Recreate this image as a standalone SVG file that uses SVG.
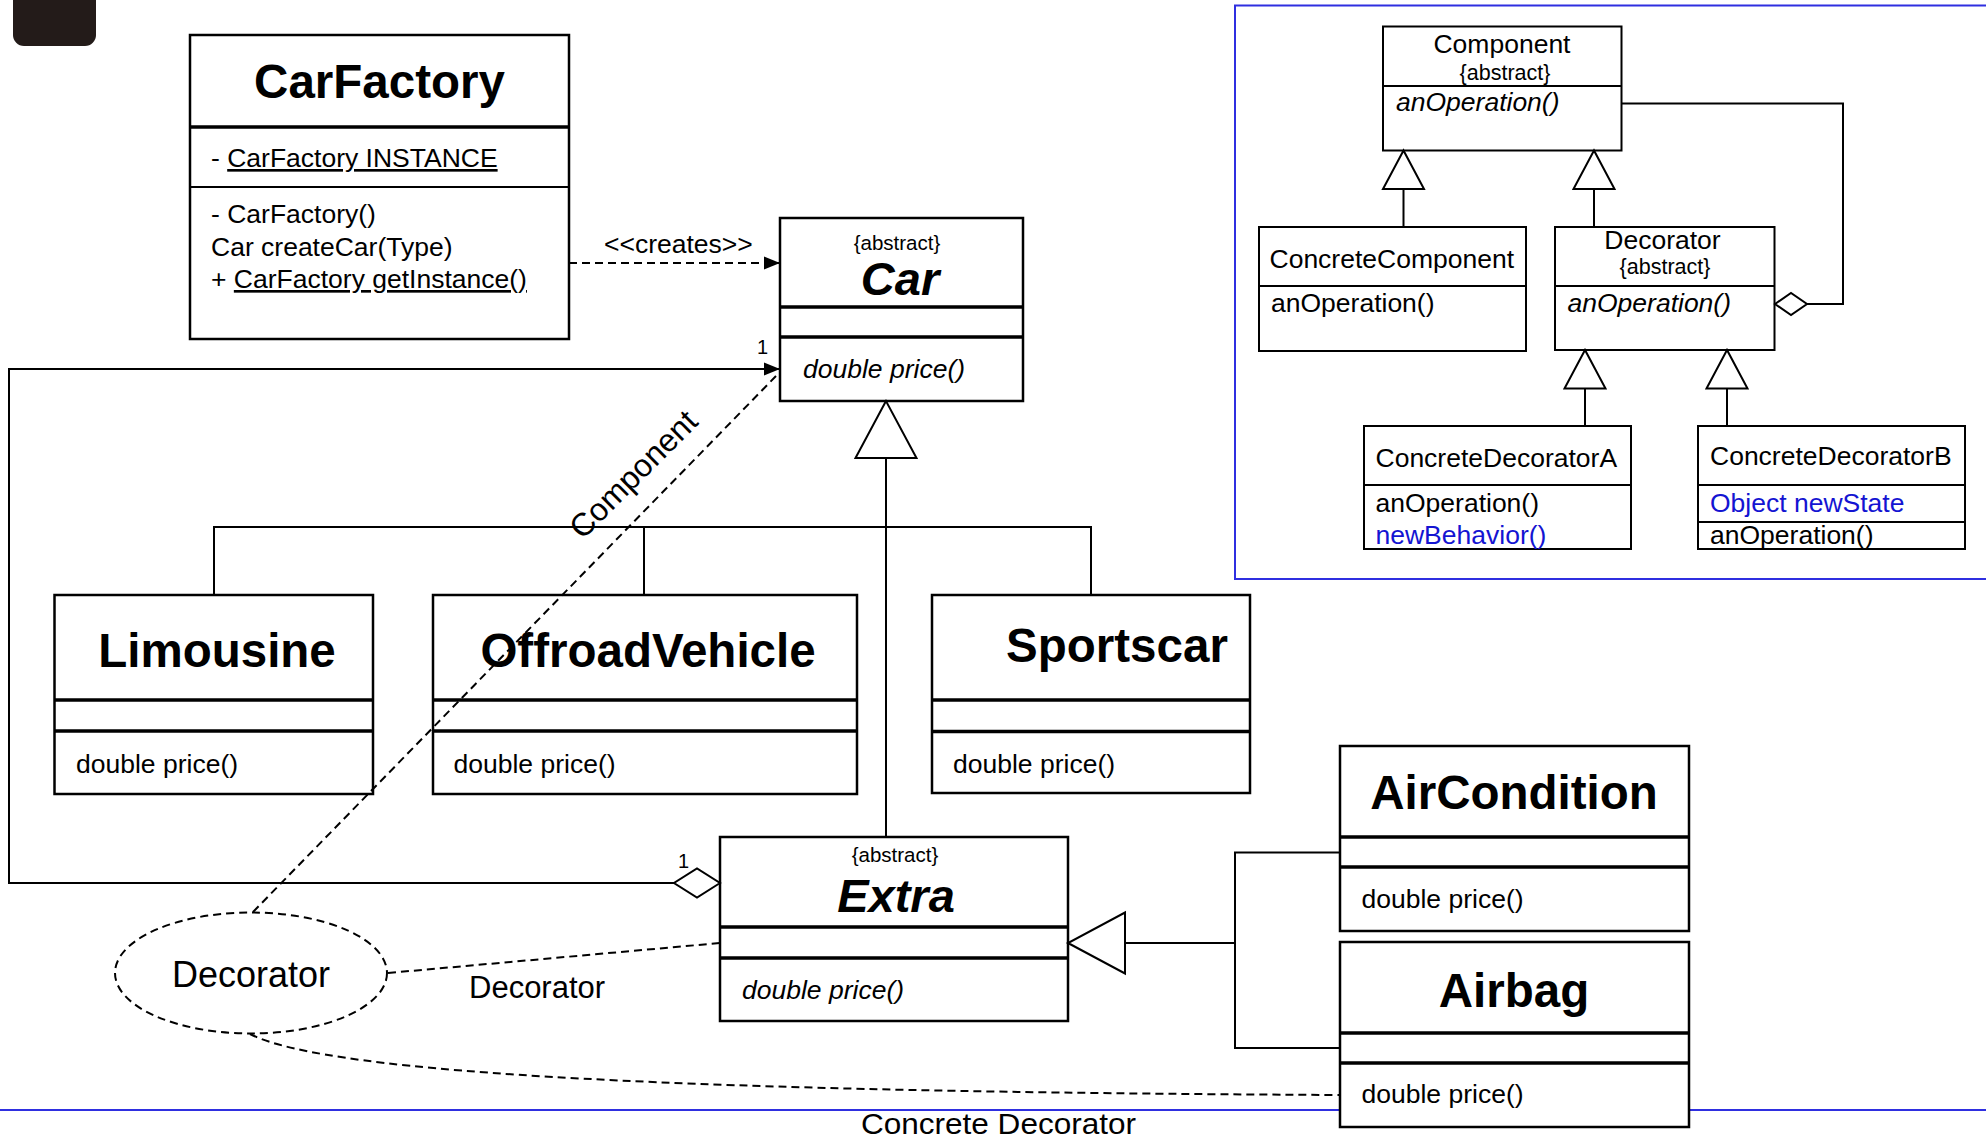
<svg xmlns="http://www.w3.org/2000/svg" width="1986" height="1137" viewBox="0 0 1986 1137">
  <style>
    text { font-family: "Liberation Sans", Arial, Helvetica, sans-serif; fill: #000; }
    .box { fill: #fff; stroke: #000; stroke-width: 2.5; }
    .div { stroke: #000; stroke-width: 3.5; }
    .pbox { fill: #fff; stroke: #000; stroke-width: 2; }
    .pdiv { stroke: #000; stroke-width: 2; }
    .title { font-weight: bold; font-size: 47.5px; text-anchor: middle; }
    .abstitle { font-weight: bold; font-style: italic; font-size: 47px; text-anchor: middle; }
    .mem { font-size: 26.5px; }
    .abs { font-size: 20.5px; text-anchor: middle; }
    .it { font-style: italic; }
    .ptxt { font-size: 26.5px; }
    .pabs { font-size: 21.5px; text-anchor: middle; }
    .blue { fill: #1414d2; }
    .line { fill: none; stroke: #000; stroke-width: 2; }
    .dash { stroke-dasharray: 8 5; }
    .frame { fill: none; stroke: #2f2fe0; stroke-width: 2; }
    .ul { text-decoration: underline; }
  </style>
  <defs>
    <marker id="arrow" markerUnits="userSpaceOnUse" viewBox="0 0 16 13" refX="16" refY="6.5" markerWidth="16" markerHeight="13" orient="auto" overflow="visible">
      <path d="M0,0 L16,6.5 L0,13 z" fill="#000"/>
    </marker>
    <marker id="gen" markerUnits="userSpaceOnUse" refX="0" refY="0" markerWidth="1" markerHeight="1" orient="auto" overflow="visible">
      <path d="M0,0 L-57,-30.5 L-57,30.5 z" fill="#fff" stroke="#000" stroke-width="2"/>
    </marker>
    <marker id="genS" markerUnits="userSpaceOnUse" refX="0" refY="0" markerWidth="1" markerHeight="1" orient="auto" overflow="visible">
      <path d="M0,0 L-38.5,-20.5 L-38.5,20.5 z" fill="#fff" stroke="#000" stroke-width="2"/>
    </marker>
    <marker id="diamond" markerUnits="userSpaceOnUse" refX="0" refY="0" markerWidth="1" markerHeight="1" orient="auto" overflow="visible">
      <path d="M0,0 L23,-14.5 L46,0 L23,14.5 z" fill="#fff" stroke="#000" stroke-width="2"/>
    </marker>
    <marker id="diamondS" markerUnits="userSpaceOnUse" refX="0" refY="0" markerWidth="1" markerHeight="1" orient="auto" overflow="visible">
      <path d="M0,0 L16,-11 L32,0 L16,11 z" fill="#fff" stroke="#000" stroke-width="2"/>
    </marker>
  </defs>

  <rect width="1986" height="1137" fill="#fff"/>

  <!-- corner tab -->
  <rect x="13" y="-12" width="83" height="58" rx="11" fill="#231b19"/>

  <!-- pattern frame and bottom rule -->
  <rect class="frame" x="1235" y="5.5" width="770" height="573.5"/>
  <line class="frame" x1="0" y1="1110" x2="1986" y2="1110"/>

  <g id="CarFactory">
    <rect class="box" x="190" y="35" width="379" height="304"/>
    <line class="div" x1="190" y1="127" x2="569" y2="127"/>
    <line class="pdiv" stroke-width="2.5" x1="190" y1="187" x2="569" y2="187"/>
    <text class="title" x="379.5" y="98">CarFactory</text>
    <text class="mem" x="211" y="167">- <tspan class="ul">CarFactory INSTANCE</tspan></text>
    <text class="mem" x="211" y="223">- CarFactory()</text>
    <text class="mem" x="211" y="256">Car createCar(Type)</text>
    <text class="mem" x="211" y="288">+ <tspan class="ul">CarFactory getInstance()</tspan></text>
  </g>

  <g id="Car">
    <rect class="box" x="780" y="218" width="243" height="183"/>
    <line class="div" x1="780" y1="307" x2="1023" y2="307"/>
    <line class="div" x1="780" y1="337" x2="1023" y2="337"/>
    <text class="abs" x="897" y="250">{abstract}</text>
    <text class="abstitle" x="900" y="295">Car</text>
    <text class="mem it" x="803" y="378">double price()</text>
  </g>

  <g id="Limousine">
    <rect class="box" x="54.5" y="595" width="318.5" height="199"/>
    <line class="div" x1="54.5" y1="700" x2="373" y2="700"/>
    <line class="div" x1="54.5" y1="731" x2="373" y2="731"/>
    <text class="title" x="217" y="666.5">Limousine</text>
    <text class="mem" x="76" y="772.5">double price()</text>
  </g>

  <g id="OffroadVehicle">
    <rect class="box" x="433" y="595" width="424" height="199"/>
    <line class="div" x1="433" y1="700" x2="857" y2="700"/>
    <line class="div" x1="433" y1="731" x2="857" y2="731"/>
    <text class="title" x="648" y="666.5">OffroadVehicle</text>
    <text class="mem" x="453.5" y="772.5">double price()</text>
  </g>

  <g id="Sportscar">
    <rect class="box" x="932" y="595" width="318" height="198"/>
    <line class="div" x1="932" y1="700" x2="1250" y2="700"/>
    <line class="div" x1="932" y1="731.5" x2="1250" y2="731.5"/>
    <text class="title" x="1117" y="662">Sportscar</text>
    <text class="mem" x="953" y="772.5">double price()</text>
  </g>

  <g id="Extra">
    <rect class="box" x="720" y="837" width="348" height="184"/>
    <line class="div" x1="720" y1="927" x2="1068" y2="927"/>
    <line class="div" x1="720" y1="958" x2="1068" y2="958"/>
    <text class="abs" x="895" y="862">{abstract}</text>
    <text class="abstitle" x="896" y="912">Extra</text>
    <text class="mem it" x="742" y="999">double price()</text>
  </g>

  <g id="AirCondition">
    <rect class="box" x="1340" y="746" width="349" height="185"/>
    <line class="div" x1="1340" y1="837" x2="1689" y2="837"/>
    <line class="div" x1="1340" y1="867" x2="1689" y2="867"/>
    <text class="title" x="1514" y="809">AirCondition</text>
    <text class="mem" x="1361.5" y="908">double price()</text>
  </g>

  <g id="Airbag">
    <rect class="box" x="1340" y="942" width="349" height="185"/>
    <line class="div" x1="1340" y1="1033" x2="1689" y2="1033"/>
    <line class="div" x1="1340" y1="1063" x2="1689" y2="1063"/>
    <text class="title" x="1514" y="1006.5">Airbag</text>
    <text class="mem" x="1361.5" y="1103">double price()</text>
  </g>

  <g id="Component">
    <rect class="pbox" x="1383" y="26.5" width="238.5" height="124"/>
    <line class="pdiv" x1="1383" y1="86" x2="1621.5" y2="86"/>
    <text class="ptxt" x="1502" y="53" text-anchor="middle">Component</text>
    <text class="pabs" x="1505" y="80">{abstract}</text>
    <text class="ptxt it" x="1396" y="111">anOperation()</text>
  </g>

  <g id="ConcreteComponent">
    <rect class="pbox" x="1259" y="227" width="267" height="124"/>
    <line class="pdiv" x1="1259" y1="286" x2="1526" y2="286"/>
    <text class="ptxt" x="1269.5" y="268">ConcreteComponent</text>
    <text class="ptxt" x="1271" y="312">anOperation()</text>
  </g>

  <g id="Decorator">
    <rect class="pbox" x="1555" y="227" width="219.5" height="123"/>
    <line class="pdiv" x1="1555" y1="286" x2="1774.5" y2="286"/>
    <text class="ptxt" x="1662.5" y="249" text-anchor="middle">Decorator</text>
    <text class="pabs" x="1665" y="274">{abstract}</text>
    <text class="ptxt it" x="1567.5" y="312">anOperation()</text>
  </g>

  <g id="ConcreteDecoratorA">
    <rect class="pbox" x="1364" y="426" width="267" height="123"/>
    <line class="pdiv" x1="1364" y1="485" x2="1631" y2="485"/>
    <text class="ptxt" x="1375.5" y="466.5">ConcreteDecoratorA</text>
    <text class="ptxt" x="1375.5" y="511.5">anOperation()</text>
    <text class="ptxt blue" x="1375.5" y="543.5">newBehavior()</text>
  </g>

  <g id="ConcreteDecoratorB">
    <rect class="pbox" x="1698" y="426" width="267" height="123"/>
    <line class="pdiv" x1="1698" y1="485" x2="1965" y2="485"/>
    <line class="pdiv" x1="1698" y1="522" x2="1965" y2="522"/>
    <text class="ptxt" x="1710" y="464.5">ConcreteDecoratorB</text>
    <text class="ptxt blue" x="1710" y="511.5">Object newState</text>
    <text class="ptxt" x="1710" y="543.5">anOperation()</text>
  </g>

  <!-- connectors are drawn last: the role lines run across the class boxes -->
  <g id="connectors">
    <!-- creates dependency -->
    <path class="line dash" d="M569,263 L780,263" marker-end="url(#arrow)"/>
    <text x="604" y="253" class="mem">&lt;&lt;creates&gt;&gt;</text>
    <!-- inheritance from Car -->
    <path class="line" d="M214,596 V527 H1091 V595 M644,527 V596"/>
    <path class="line" d="M886,837 V401" marker-end="url(#gen)"/>
    <!-- Extra aggregates a Car -->
    <path class="line" d="M720,883 H9 V369 H780" marker-start="url(#diamond)" marker-end="url(#arrow)"/>
    <text x="757" y="354" font-size="20">1</text>
    <text x="678" y="868" font-size="20">1</text>
    <!-- inheritance from Extra -->
    <path class="line" d="M1340,852.5 H1235 V1048 H1340 M1235,943 H1068" marker-end="url(#gen)"/>
    <!-- role annotations -->
    <path class="line dash" d="M253,912 L776,376"/>
    <path class="line dash" d="M388,973 L720,943"/>
    <path class="line dash" d="M250,1034 C330,1075 700,1092 1340,1095"/>
    <ellipse class="line dash" cx="251" cy="973" rx="136" ry="60.5"/>
    <text x="641" y="482" font-size="32" text-anchor="middle" transform="rotate(-45 641 482)">Component</text>
    <text x="251" y="987" font-size="36" text-anchor="middle">Decorator</text>
    <text x="469" y="998" font-size="31">Decorator</text>
    <text x="861" y="1134" font-size="30" textLength="275" lengthAdjust="spacingAndGlyphs">Concrete Decorator</text>

    <!-- pattern connectors -->
    <path class="line" d="M1403.5,227 V150.5" marker-end="url(#genS)"/>
    <path class="line" d="M1594,227 V150.5" marker-end="url(#genS)"/>
    <path class="line" d="M1585,426 V350" marker-end="url(#genS)"/>
    <path class="line" d="M1727,426 V350" marker-end="url(#genS)"/>
    <path class="line" d="M1775,304 H1843 V103.5 H1621.5" marker-start="url(#diamondS)"/>
  </g>
</svg>
